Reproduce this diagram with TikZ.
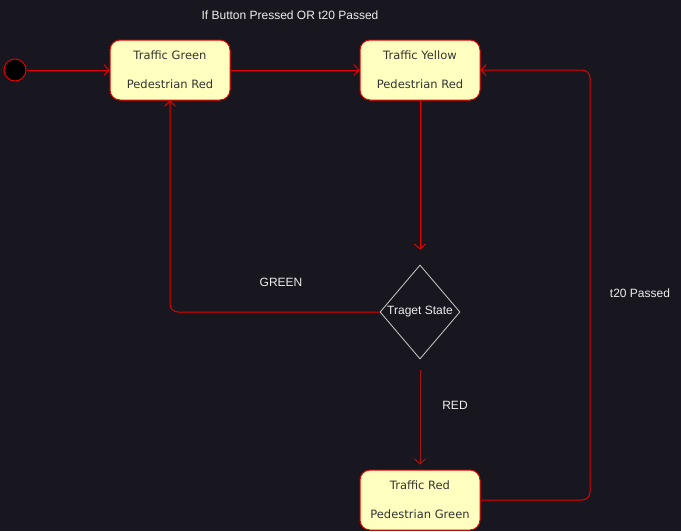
\documentclass[tikz,border=0pt]{standalone}
\usepackage{fontspec}
\setmainfont{DejaVu Sans}
\newfontfamily\labelfont{Liberation Sans}
\usetikzlibrary{shapes.geometric,positioning,arrows.meta}

\definecolor{canvas}{RGB}{24,22,30}
\definecolor{boxfill}{RGB}{255,255,192}
\definecolor{boxtext}{RGB}{51,51,51}
\definecolor{wire}{RGB}{230,0,0}
\definecolor{dimwire}{RGB}{170,20,20}
\definecolor{labeltext}{RGB}{238,238,238}

\begin{document}
\begin{tikzpicture}[x=1pt,y=-1pt,on grid,
    state/.style={draw=wire, fill=boxfill, line width=1pt, rounded corners=10pt,
        minimum width=120pt, minimum height=60pt, align=center, text=boxtext,
        font=\fontsize{11.5}{29}\selectfont},
    start/.style={circle, draw=wire, fill=black, line width=1pt, minimum size=22pt, inner sep=0pt},
    choice/.style={diamond, draw=black!20, line width=0.8pt, fill=canvas, inner sep=0pt,
        minimum width=80pt, minimum height=94pt, text=labeltext,
        font=\labelfont\fontsize{12}{14}\selectfont},
    guard/.style={text=labeltext, font=\labelfont\fontsize{12}{14}\selectfont, inner sep=0pt},
    trans/.style={draw=wire, line width=1pt, -{Straight Barb[length=5pt,width=11pt]}}]
    \fill[canvas] (0,0) rectangle (681,531);
    \useasboundingbox (0,0) rectangle (681,531);

    \node[state] (green) at (170,70) {Traffic Green\\Pedestrian Red};
    \node[start] (init) [left=155pt of green] {};
    \node[state] (yellow) [right=250pt of green] {Traffic Yellow\\Pedestrian Red};
    \node[choice] (target) [below=242pt of yellow] {Traget State};
    \node[state] (red) [below=188pt of target] {Traffic Red\\Pedestrian Green};
    \coordinate (turn) at (590,70);

    % guards
    \node[guard] (g_button) at (290,15) {If Button Pressed OR t20 Passed};
    \node[guard] (g_green) at (281,282) {GREEN};
    \node[guard] (g_red) at (455,405) {RED};
    \node[guard] (g_t20) at (640,293) {t20 Passed};

    \draw[trans] (init) -- (green);
    \draw[trans] (green) -- (yellow);
    \draw[trans, shorten >=15pt] (yellow) -- (target);
    \draw[trans, rounded corners=8pt] (target.west) -| (green);
    \draw[trans, draw=dimwire, shorten <=11pt, shorten >=5pt] (target) -- (red);
    \draw[trans, rounded corners=8pt] (red) -| (turn) -- (yellow);
\end{tikzpicture}
\end{document}
